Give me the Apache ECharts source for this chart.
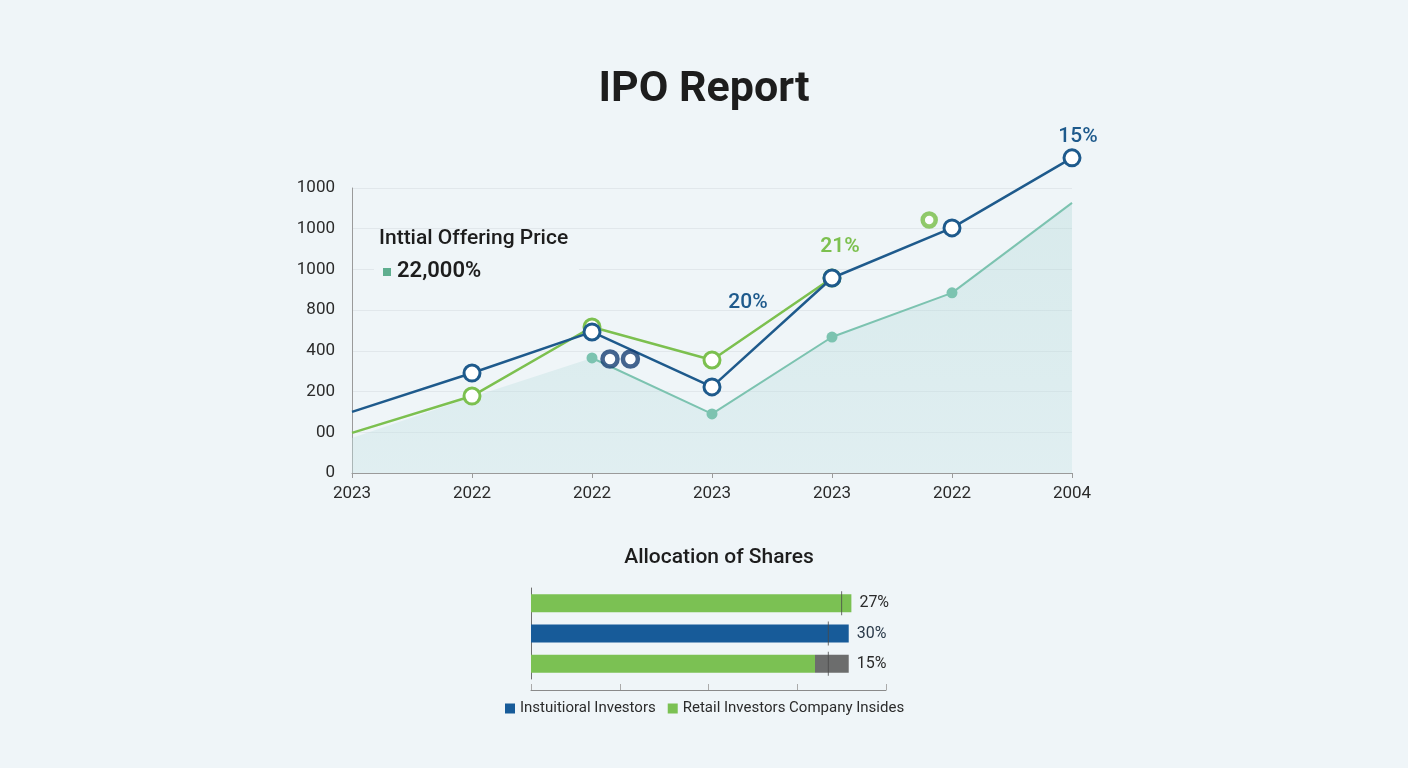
<!DOCTYPE html>
<html>
<head>
<meta charset="utf-8">
<title>IPO Report</title>
<script src="https://cdn.jsdelivr.net/npm/echarts@6/dist/echarts.min.js"></script>
<style>
html,body{margin:0;padding:0;background:#eff5f8;}
#main{width:1408px;height:768px;}
</style>
</head>
<body>
<div id="main"></div>
<script>
// ---------- data ----------
var years = ['2023', '2022', '2022', '2023', '2023', '2022', '2004'];
var yTickLabels = ['0', '00', '200', '400', '800', '1000', '1000', '1000'];
var blueVals = [300, 491, 693, 423, 958, 1204, 1548];
var greenVals = [197, 378, 717, 555, 958, null, null];
var tealVals = [172, 373, 565, 290, 668, 885, 1327];
var blueLabels = ['', '', '', '20%', '', '', '15%'];
var greenLabels = ['', '', '', '', '21%', '', ''];
// loose markers floating between categories (x in category units)
var strayGreen = [[4.81, 1243]];
var strayBlue = [[2.15, 560], [2.32, 560]];

var shareRows = ['Retail', 'Institutional', 'Insiders'];
var instVals = [null, 35.8, null];
var retailVals = [36.1, null, 32];
var insiderVals = [null, null, 3.8];
var shareLabels = ['27%', '30%', '15%'];
var shareTicks = [35.0, 33.5, 33.5];

var navy = '#1e5a8c';
var green = '#7cc04f';
var teal = '#7cc3b0';
var bg = '#eff5f8';
var font = 'Roboto, "Noto Sans", sans-serif';

var myChart = echarts.init(document.getElementById('main'));

function lineData(vals, labels, firstNoSymbol) {
	return vals.map(function (v, i) {
		var item = { value: v };
		if (firstNoSymbol && i == 0) item.symbol = 'none';
		if (labels && labels[i]) item.label = { show: true, formatter: labels[i] };
		return item;
	});
}

var tealLine = tealVals.map(function (v, i) {
	if (i < 2) return null;
	var item = { value: v };
	if (i == tealVals.length - 1) item.symbol = 'none';
	return item;
});

function stackLabel(vals, lastOf) {
	return vals.map(function (v, i) {
		if (v == null) return null;
		var item = { value: v };
		if (lastOf[i]) item.label = { show: true, formatter: shareLabels[i] };
		return item;
	});
}

var option = {
	animation: false,
	backgroundColor: bg,
	textStyle: { fontFamily: font },
	title: [{
		text: 'IPO Report',
		left: 'center',
		top: 64,
		textStyle: { fontSize: 43, fontWeight: 'bold', color: '#1d1d1d', fontFamily: font }
	}, {
		text: 'Allocation of Shares',
		left: 714,
		textAlign: 'center',
		top: 542,
		textStyle: { fontSize: 21, fontWeight: 500, color: '#1d1d1d', fontFamily: font }
	}],
	legend: {
		left: 500,
		top: 696,
		itemWidth: 10,
		itemHeight: 10,
		itemGap: 12,
		icon: 'rect',
		data: ['Instuitioral Investors', 'Retail Investors Company Insides'],
		textStyle: { fontSize: 15, color: '#2b2b2b', fontFamily: font }
	},
	graphic: [{
		type: 'rect',
		z: 100,
		left: 374,
		top: 233,
		shape: { width: 205, height: 52 },
		style: { fill: bg }
	}, {
		type: 'text',
		z: 101,
		left: 379,
		top: 228,
		style: { text: 'Inttial Offering Price', fontSize: 21, fontWeight: 500, fill: '#1d1d1d', fontFamily: font }
	}, {
		type: 'rect',
		z: 101,
		left: 383,
		top: 268,
		shape: { width: 8, height: 8 },
		style: { fill: '#5fae8f' }
	}, {
		type: 'text',
		z: 101,
		left: 397,
		top: 260,
		style: { text: '22,000%', fontSize: 22, fontWeight: 600, fill: '#1d1d1d', fontFamily: font }
	}],
	grid: [
		{ left: 352, top: 188, width: 720, height: 285 },
		{ left: 531, top: 588, width: 355, height: 91 }
	],
	xAxis: [{
		type: 'category',
		gridIndex: 0,
		data: years,
		boundaryGap: false,
		axisLine: { lineStyle: { color: '#9a9a9a' } },
		axisTick: { length: 5, lineStyle: { color: '#9a9a9a' } },
		axisLabel: { fontSize: 17, color: '#2b2b2b', margin: 12, fontFamily: font }
	}, {
		type: 'value',
		gridIndex: 0,
		min: 0,
		max: 6,
		show: false
	}, {
		type: 'value',
		gridIndex: 1,
		min: 0,
		max: 40,
		interval: 10,
		offset: 11,
		axisLine: { show: true, lineStyle: { color: '#8a8a8a' } },
		axisTick: { show: true, inside: true, length: 6, lineStyle: { color: '#aaa' } },
		axisLabel: { show: false },
		splitLine: { show: false }
	}],
	yAxis: [{
		type: 'value',
		gridIndex: 0,
		min: 0,
		max: 1400,
		interval: 200,
		axisLine: { show: true, lineStyle: { color: '#9a9a9a' } },
		axisTick: { show: false },
		splitLine: { lineStyle: { color: '#e1e7eb' } },
		axisLabel: {
			fontSize: 17, color: '#2b2b2b', margin: 17, fontFamily: font,
			formatter: function (v) { return yTickLabels[Math.round(v / 200)]; }
		}
	}, {
		type: 'category',
		gridIndex: 1,
		data: shareRows,
		inverse: true,
		axisLine: { show: true, lineStyle: { color: '#6f6f6f' } },
		axisTick: { show: false },
		axisLabel: { show: false }
	}],
	series: [{
		name: 'area',
		type: 'line',
		xAxisIndex: 0, yAxisIndex: 0,
		data: tealVals,
		symbol: 'none',
		lineStyle: { width: 0, opacity: 0 },
		areaStyle: {
			color: new echarts.graphic.LinearGradient(0, 0, 0, 1, [
				{ offset: 0, color: 'rgba(168,212,210,0.45)' },
				{ offset: 1, color: 'rgba(200,228,230,0.55)' }
			])
		},
		z: 1,
		silent: true
	}, {
		name: 'teal',
		type: 'line',
		xAxisIndex: 0, yAxisIndex: 0,
		data: tealLine,
		symbol: 'circle',
		symbolSize: 11,
		itemStyle: { color: teal },
		lineStyle: { color: teal, width: 2 },
		z: 2
	}, {
		name: 'green',
		type: 'line',
		xAxisIndex: 0, yAxisIndex: 0,
		data: lineData(greenVals, greenLabels, true),
		symbol: 'circle',
		symbolSize: 16,
		itemStyle: { color: '#ffffff', borderColor: green, borderWidth: 3 },
		lineStyle: { color: green, width: 2.5 },
		label: {
			position: 'inside', offset: [8, -31],
			fontSize: 21, fontWeight: 600, color: green, fontFamily: font
		},
		z: 3
	}, {
		name: 'blue',
		type: 'line',
		xAxisIndex: 0, yAxisIndex: 0,
		data: lineData(blueVals, blueLabels, true),
		clip: false,
		symbol: 'circle',
		symbolSize: 16,
		itemStyle: { color: '#ffffff', borderColor: navy, borderWidth: 3 },
		lineStyle: { color: navy, width: 2.5 },
		label: {
			position: 'inside', fontSize: 21, fontWeight: 500, color: navy, fontFamily: font
		},
		labelLayout: function (p) {
			return p.dataIndex == 6 ? { dx: 6, dy: -21, fontWeight: 600 } : { dx: 36, dy: -84 };
		},
		z: 4
	}, {
		name: 'strayGreen',
		type: 'scatter',
		xAxisIndex: 1, yAxisIndex: 0,
		data: strayGreen,
		symbolSize: 13,
		itemStyle: { color: '#ffffff', borderColor: '#76bd45', borderWidth: 4.5 },
		z: 5
	}, {
		name: 'strayBlue',
		type: 'scatter',
		xAxisIndex: 1, yAxisIndex: 0,
		data: strayBlue,
		symbolSize: 15,
		itemStyle: { color: '#ffffff', borderColor: '#173f73', borderWidth: 4.5 },
		z: 5
	}, {
		name: 'Instuitioral Investors',
		type: 'bar',
		xAxisIndex: 2, yAxisIndex: 1,
		stack: 'share',
		barWidth: 18,
		data: stackLabel(instVals, [false, true, false]),
		itemStyle: { color: '#175b99' },
		label: { position: 'right', distance: 8, fontSize: 16, color: '#2b3a4a', fontFamily: font }
	}, {
		name: 'Retail Investors Company Insides',
		type: 'bar',
		xAxisIndex: 2, yAxisIndex: 1,
		stack: 'share',
		barWidth: 18,
		data: stackLabel(retailVals, [true, false, false]),
		itemStyle: { color: '#7bc153' },
		label: { position: 'right', distance: 8, fontSize: 16, color: '#2b2b2b', fontFamily: font }
	}, {
		name: 'Company Insides',
		type: 'bar',
		xAxisIndex: 2, yAxisIndex: 1,
		stack: 'share',
		barWidth: 18,
		data: stackLabel(insiderVals, [false, false, true]),
		itemStyle: { color: '#6c6d6d' },
		label: { position: 'right', distance: 8, fontSize: 16, color: '#2b2b2b', fontFamily: font }
	}, {
		name: 'tickMarks',
		type: 'scatter',
		xAxisIndex: 2, yAxisIndex: 1,
		data: shareTicks.map(function (v, i) { return [v, shareRows[i]]; }),
		symbol: 'rect',
		symbolSize: [1, 24],
		itemStyle: { color: '#4a4a4a', opacity: 0.8 },
		silent: true,
		z: 5
	}]
};

myChart.setOption(option);
</script>
</body>
</html>
